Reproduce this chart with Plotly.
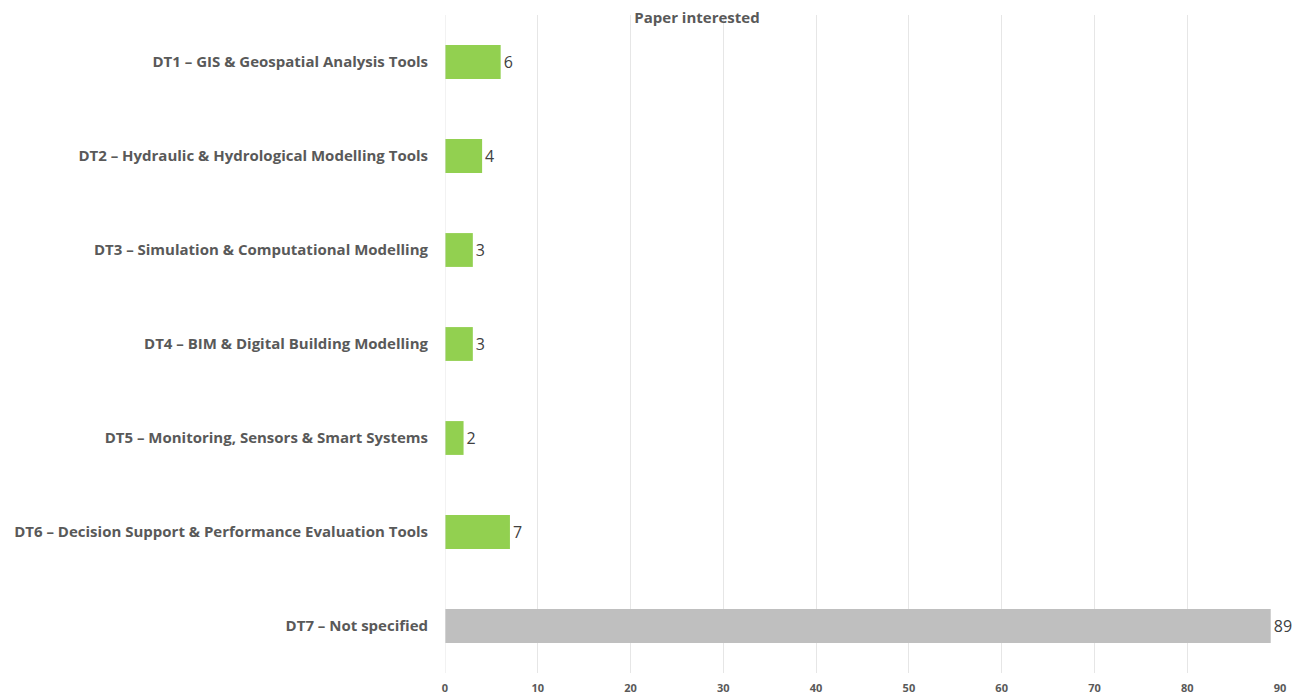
import plotly.graph_objects as go

categories = [
    "DT1 – GIS & Geospatial Analysis Tools",
    "DT2 – Hydraulic & Hydrological Modelling Tools",
    "DT3 – Simulation & Computational Modelling",
    "DT4 – BIM & Digital Building Modelling",
    "DT5 – Monitoring, Sensors & Smart Systems",
    "DT6 – Decision Support & Performance Evaluation Tools",
    "DT7 – Not specified",
]
papers = [6, 4, 3, 3, 2, 7, 89]
bar_colors = ["#92d050"] * 6 + ["#bfbfbf"]
x_ticks = [0, 10, 20, 30, 40, 50, 60, 70, 80, 90]

fig = go.Figure()
fig.add_trace(go.Bar(
    y=categories, x=papers, orientation="h",
    marker=dict(color=bar_colors, line=dict(width=0)),
    width=0.36,
    text=papers, textposition="outside", cliponaxis=False,
    textfont=dict(family="Open Sans", size=16, color="#404040"),
))

# page body has an 8px margin, so the figure is shifted by 8px
fig.update_layout(
    width=1285, height=689,
    margin=dict(l=437, r=13, t=7, b=24),
    paper_bgcolor="white", plot_bgcolor="white",
    showlegend=False,
    title=dict(text="<b>Paper interested</b>", x=689/1285, xanchor="center",
               y=1 - 10/689, yanchor="middle", yref="container",
               font=dict(family="Open Sans", size=15, color="#595959")),
    font=dict(family="Open Sans", color="#595959"),
)
fig.update_xaxes(range=[0, 90], tickvals=x_ticks, showgrid=True, gridcolor="#e6e6e6",
                 zeroline=False, showline=False, ticks="", automargin=False,
                 ticklabelstandoff=7,
                 tickfont=dict(family="Open Sans", size=11, color="#595959", weight="bold"))
fig.update_yaxes(autorange="reversed", showgrid=False, zeroline=False, ticks="",
                 ticklabelstandoff=16, automargin=False,
                 tickfont=dict(family="Open Sans", size=15, color="#595959", weight="bold"))
fig.add_vline(x=0, line=dict(color="#e6e6e6", width=1))

fig.write_html("out.html")
